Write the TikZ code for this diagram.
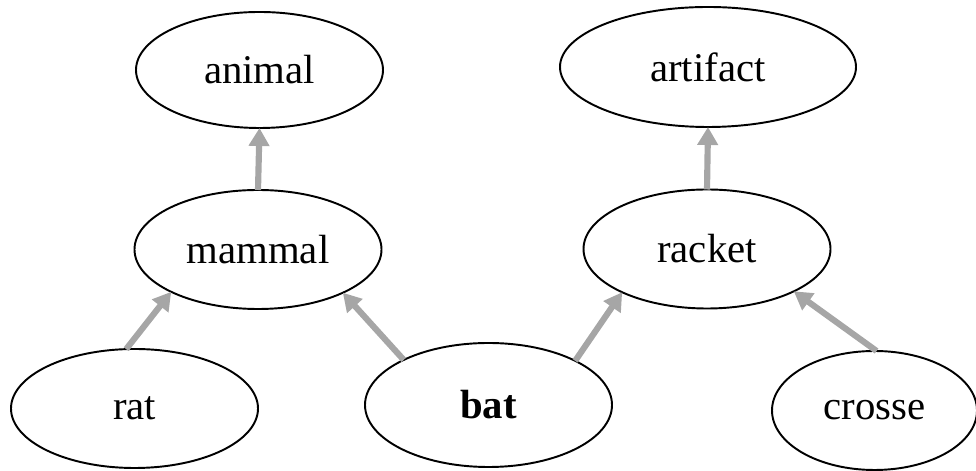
\documentclass[tikz,border=0pt]{standalone}
\usepackage{fontspec}
\setmainfont{Liberation Serif}
\usetikzlibrary{shapes.geometric,arrows.meta}

\begin{document}
\begin{tikzpicture}[
    >={Triangle[length=0.36cm,width=0.40cm]},
    concept/.style={ellipse, draw=black, line width=1.1pt, inner sep=0pt, outer sep=0pt,
        minimum width=4.94cm, minimum height=2.38cm,
        font=\fontsize{23.2}{28}\selectfont},
    isa/.style={->, draw=isa_color, line width=3.5pt}
]

% --- 1. SETTINGS & COLORS ---
\colorlet{isa_color}{black!35}

% --- 2. FRAME ---
\useasboundingbox (0,0) rectangle (19.52,9.42);

% --- 3. CONCEPTS ---
% Top row
\node[concept, minimum height=2.32cm] (animal) at (5.19, 8.02) {animal};
\node[concept, minimum width=5.92cm, minimum height=2.40cm] (artifact) at (14.16, 8.08) {artifact};

% Middle row
\node[concept] (mammal) at (5.16, 4.43) {mammal};
\node[concept] (racket) at (14.14, 4.44) {racket};

% Bottom row
\node[concept] (rat) at (2.69, 1.25) {rat};
\node[concept, minimum height=2.48cm] (bat) at (9.77, 1.32) {\textbf{bat}};
\node[concept, minimum width=4.10cm] (crosse) at (17.49, 1.21) {crosse};

% --- 4. IS-A LINKS ---
\draw[isa] (rat.98) -- (mammal.206);
\draw[isa] (bat.152) -- (mammal.-27);
\draw[isa] (bat.27) -- (racket.207);
\draw[isa] (crosse.88) -- (racket.-26);
\draw[isa] (mammal.north) -- (animal.south);
\draw[isa] (racket.north) -- (artifact.south);

\end{tikzpicture}
\end{document}
